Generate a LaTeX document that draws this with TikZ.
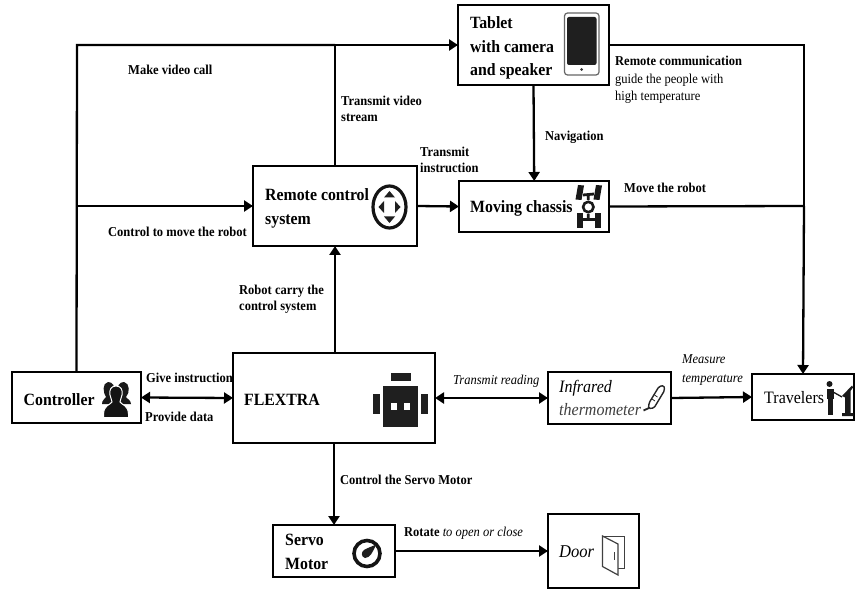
\documentclass[tikz,border=0pt]{standalone}
\usepackage{fontspec}
\setmainfont[FakeStretch=0.92]{Liberation Serif}
\usetikzlibrary{arrows.meta}
\tikzset{
 x=1pt,y=-1pt,
 box/.style={draw=black,line width=2pt,fill=white,inner sep=0pt,outer sep=0pt},
 conn/.style={line width=2.3pt,draw=black},
 arr/.style={conn,-{Triangle[length=9pt,width=11pt]}},
 dbl/.style={conn,{Triangle[length=9pt,width=11pt]}-{Triangle[length=9pt,width=11pt]}},
 lab/.style={anchor=west,inner sep=0pt,align=left,font=\bfseries\fontsize{13.6}{16.5}\selectfont},
 ilab/.style={anchor=west,inner sep=0pt,align=left,font=\itshape\fontsize{13.6}{19}\selectfont},
 title/.style={anchor=west,inner sep=0pt,align=left,font=\bfseries\fontsize{17.2}{23.5}\selectfont},
}
\begin{document}
\begin{tikzpicture}
\useasboundingbox (0,0) rectangle (861,601);
\fill[white] (0,0) rectangle (861,601);
% boxes
\node[box,minimum width=151pt,minimum height=80pt] (tablet) at (533.5,45) {};
\node[box,minimum width=150.5pt,minimum height=51pt] (chassis) at (534.2,206.5) {};
\node[box,minimum width=164pt,minimum height=80pt] (remote) at (335,206) {};
\node[box,minimum width=129pt,minimum height=51pt] (controller) at (76.5,397.5) {};
\node[box,minimum width=202pt,minimum height=90pt] (flextra) at (334,398) {};
\node[box,minimum width=123pt,minimum height=52pt] (thermo) at (609.5,398) {};
\node[box,minimum width=102pt,minimum height=46pt] (travelers) at (803,397) {};
\node[box,minimum width=122pt,minimum height=52pt] (servo) at (334,551) {};
\node[box,minimum width=91pt,minimum height=74pt] (door) at (593.5,551) {};
% junctions
\coordinate (corner1) at (77,45);
\coordinate (join1) at (335,45);
\coordinate (branch1) at (77,206);
\coordinate (corner2) at (804,45);
\coordinate (join2) at (804,206);
% connectors
\draw[conn] (controller.north) -- (corner1) -- (join1);
\draw[arr] (join1) -- (tablet.west);
\draw[arr] (branch1) -- (remote.west);
\draw[conn] (remote.north) -- (join1);
\draw[arr] (remote.east) -- (chassis.west);
\draw[arr] (tablet.south) -- (chassis.north);
\draw[conn] (tablet.east) -- (corner2) -- (join2);
\draw[conn] (chassis.east) -- (join2);
\draw[arr] (join2) -- (travelers.north);
\draw[arr] (flextra.north -| remote.south) -- (remote.south);
\draw[dbl] (controller.east) -- (flextra.west);
\draw[dbl] (flextra.east) -- (thermo.west);
\draw[arr] (thermo.east) -- (travelers.west);
\draw[arr] (flextra.south) -- (servo.north);
\draw[arr] (servo.east) -- (door.west);
% titles
\node[title] (t1) at (470,48) {Tablet\\with camera\\and speaker};
\node[title] (t2) at (470,208.5) {Moving chassis};
\node[title] (t3) at (265,208.5) {Remote control\\[1pt]system};
\node[title] (t4) at (23.5,399.5) {Controller};
\node[title] (t5) at (244,399.5) {FLEXTRA};
\node[anchor=west,inner sep=0pt,align=left,font=\itshape\fontsize{17.4}{23}\selectfont] (t6) at (559,398) {Infrared\\\textcolor{black!75}{thermometer}};
\node[anchor=west,inner sep=0pt,font=\fontsize{17.4}{20}\selectfont] (t7) at (764,398) {Travelers};
\node[title] (t8) at (285,552) {Servo\\Motor};
\node[anchor=west,inner sep=0pt,font=\itshape\fontsize{18}{20}\selectfont] (t9) at (559,552) {Door};
% labels
\node[lab] (l1) at (128,70) {Make video call};
\node[lab] (l2) at (341,109) {Transmit video\\stream};
\node[lab] (l3) at (420,160) {Transmit\\instruction};
\node[lab] (l4) at (615,61) {Remote communication};
\node[anchor=west,inner sep=0pt,align=left,font=\fontsize{13.6}{17.5}\selectfont] (l5) at (615,89) {guide the people with\\high temperature};
\node[lab] (l6) at (545,137.5) {Navigation};
\node[lab] (l7) at (624,188) {Move the robot};
\node[lab] (l8) at (108,232) {Control to move the robot};
\node[lab] (l9) at (239,299) {Robot carry the\\control system};
\node[lab] (l10) at (146,378) {Give instruction};
\node[lab] (l11) at (145,417) {Provide data};
\node[ilab] (l12) at (453,381) {Transmit reading};
\node[ilab] (l13) at (682,370) {Measure\\temperature};
\node[lab] (l14) at (340,480) {Control the Servo Motor};
\node[anchor=west,inner sep=0pt,font=\fontsize{13.6}{15}\selectfont] (l15) at (404,533) {\textbf{Rotate} \textit{to open or close}};
% tablet icon
\draw[black!60,line width=1.2pt,rounded corners=3pt] (564.5,13) rectangle (599,75);
\fill[black!88,rounded corners=2pt] (567,17) rectangle (596.5,65);
\fill[black!80] (581.5,69.5) circle (1.5);
% chassis icon
\draw[black!90,line width=2.8pt] (583,195) -- (594,194) (588.3,194) -- (588.3,200) (588.3,214) -- (588.3,220) (581,219.5) -- (596,219.5);
\draw[black!90,line width=2.6pt] (588.3,207) circle (5.2);
\fill[black!90] (578,185) -- (584,185.5) -- (581.5,200) -- (575.5,199.5) -- cycle;
\fill[black!90] (596,185) -- (602,185.5) -- (599.5,200) -- (593.5,199.5) -- cycle;
\fill[black!90] (576.5,213) rectangle (582.5,228);
\fill[black!90] (595,213) rectangle (601,228);
% remote icon
\begin{scope}[shift={(389.5,207)}]
\draw[black!92,line width=3.2pt] (0,0) ellipse (16.5 and 21);
\fill[black!88] (0,-16) -- (5.5,-9.5) -- (-5.5,-9.5) -- cycle;
\fill[black!88] (0,16) -- (5.5,9.5) -- (-5.5,9.5) -- cycle;
\fill[black!88] (-11,0) -- (-5.5,-6) -- (-5.5,6) -- cycle;
\fill[black!88] (11,0) -- (5.5,-6) -- (5.5,6) -- cycle;
\end{scope}
% controller icon
\fill[black!90] (108,382) .. controls (113,382) and (115,386) .. (114,392) -- (112,404) -- (102,404) .. controls (102,400) and (105,399) .. (106,397) .. controls (103,393) and (102,383) .. (108,382) -- cycle;
\fill[black!90] (124,382) .. controls (119,382) and (117,386) .. (118,392) -- (120,404) -- (131,404) .. controls (131,400) and (127,399) .. (126,397) .. controls (130,393) and (130,383) .. (124,382) -- cycle;
\path[fill=black!92,draw=white,line width=1pt] (116,386) .. controls (121,386) and (123,390) .. (122,395) .. controls (121.5,398) and (120,400) .. (120,402) .. controls (122,405) and (128,405) .. (128.5,414) -- (128.5,417.5) -- (103.5,417.5) -- (103.5,414) .. controls (104,405) and (110,405) .. (112,402) .. controls (112,400) and (110.5,398) .. (110,395) .. controls (109,390) and (111,386) .. (116,386) -- cycle;
% robot icon
\fill[black!88] (390.5,373) rectangle (410.5,381);
\fill[black!88] (383,385.5) rectangle (417.5,427);
\fill[black!88] (373,394) rectangle (380,414);
\fill[black!88] (421,394) rectangle (427.5,414);
\fill[white] (391,402.5) rectangle (397,409.5);
\fill[white] (404,402.5) rectangle (410,409.5);
% thermometer icon
\draw[black!85,line width=1.4pt,rounded corners=1.5pt] (649,403) -- (659,386.5) -- (664,385.5) -- (664.5,390.5) -- (654,408) -- (648.5,408.5) -- cycle;
\draw[black!85,line width=1.8pt] (649,408) -- (643.5,410.5);
\draw[black!85,line width=.8pt] (652,399) -- (655,401) (654.5,395) -- (657.5,397);
% travelers icon
\fill[black!90] (829.5,384) circle (3);
\fill[black!90] (827,389) rectangle (834,399);
\fill[black!90] (828,398) rectangle (832.5,414.5);
\draw[black!90,line width=1.3pt] (834,392.5) -- (842,397);
\fill[black!90] (842,396) -- (852,385.5) -- (853,387.5) -- (850.5,391) -- (850.5,413) -- (853.5,413) -- (853.5,416) -- (842,416) -- (842,413) -- (845,413) -- (845,397.5) -- cycle;
% servo icon
\draw[black!92,line width=3.6pt] (367,553.5) circle (13);
\fill[black!88] (376,544.5) .. controls (373,552) and (370,558) .. (365,558) .. controls (361,557) and (361,552) .. (364,550) .. controls (367,548) and (371,547) .. (376,544.5) -- cycle;
% door icon
\draw[black!75,line width=1pt] (603,536) -- (624,536) -- (624,568) -- (618,568);
\draw[black!75,line width=1.2pt,fill=white] (602.5,536) -- (618,544) -- (618,575) -- (602.5,566.5) -- cycle;
\draw[black!75,line width=1pt] (614,552) -- (614,560);
\end{tikzpicture}
\end{document}
